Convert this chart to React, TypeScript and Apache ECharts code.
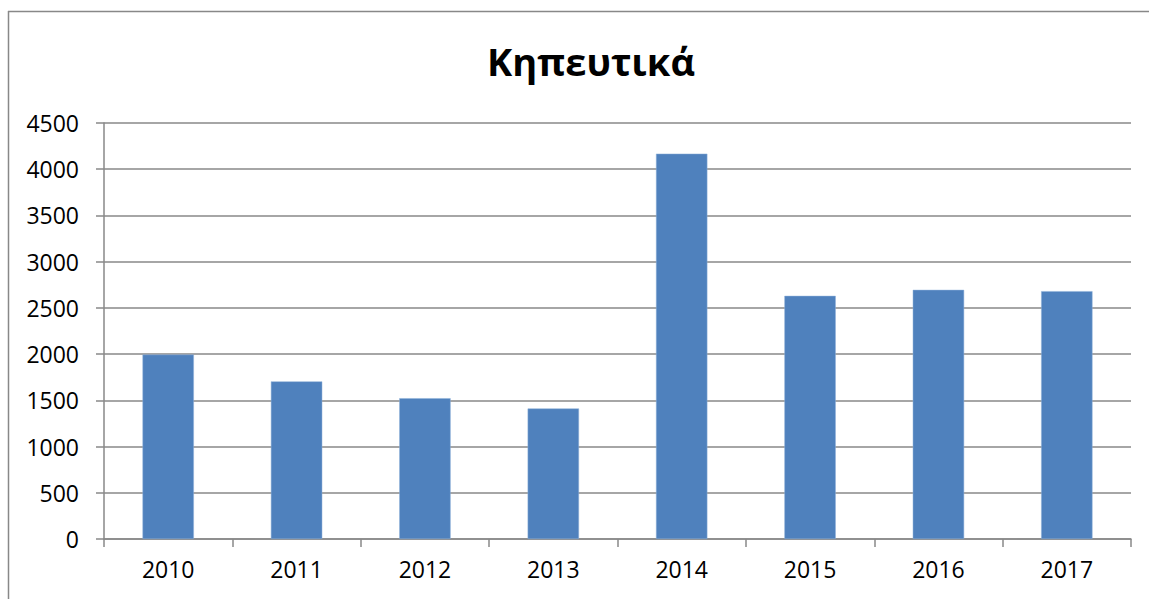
import React, { useEffect, useRef } from "react";
import * as echarts from "echarts";

const titleText = "Κηπευτικά";
const categories = ["2010", "2011", "2012", "2013", "2014", "2015", "2016", "2017"];
const values = [1995, 1705, 1523, 1412, 4168, 2630, 2695, 2681];
const yMin = 0;
const yMax = 4500;
const yInterval = 500;

const FONT = '"Open Sans", "DejaVu Sans", sans-serif';
const GREY = "#888888";

export default function App() {
  const ref = useRef<HTMLDivElement>(null);
  useEffect(() => {
    if (!ref.current) return;
    const chart = echarts.init(ref.current, null, { renderer: "svg" });
    chart.setOption({
      animation: false,
      backgroundColor: "#ffffff",
      title: {
        text: titleText,
        left: 586,
        top: 37,
        textAlign: "center",
        textStyle: { fontFamily: FONT, fontSize: 38, fontWeight: "bold", color: "#000000" },
      },
      graphic: [
        { type: "line", shape: { x1: 8.5, y1: 11, x2: 8.5, y2: 599 }, style: { stroke: GREY, lineWidth: 1.5 } },
        { type: "line", shape: { x1: 8, y1: 11.5, x2: 1149, y2: 11.5 }, style: { stroke: GREY, lineWidth: 1.5 } },
      ],
      grid: { left: 104, right: 18, top: 123, bottom: 60, containLabel: false },
      xAxis: {
        type: "category",
        data: categories,
        boundaryGap: true,
        axisLine: { show: true, lineStyle: { color: GREY, width: 1.5 } },
        axisTick: { show: true, length: 8, lineStyle: { color: GREY, width: 1.5 } },
        axisLabel: { color: "#000000", fontFamily: FONT, fontSize: 23, margin: 18 },
        splitLine: { show: false },
      },
      yAxis: {
        type: "value",
        min: yMin,
        max: yMax,
        interval: yInterval,
        axisLine: { show: true, lineStyle: { color: GREY, width: 1.5 } },
        axisTick: { show: true, length: 8, lineStyle: { color: GREY, width: 1.5 } },
        axisLabel: {
          color: "#000000",
          fontFamily: FONT,
          fontSize: 23,
          margin: 25,
          formatter: (v: number) => String(v),
        },
        splitLine: { show: true, lineStyle: { color: GREY, width: 1.5 } },
      },
      series: [
        {
          type: "bar",
          data: values,
          barWidth: "40%",
          itemStyle: { color: "#4F81BD", borderColor: "#8fb0d8", borderWidth: 0.5 },
        },
      ],
    });
    return () => chart.dispose();
  }, []);
  return (
    <div
      ref={ref}
      style={{ position: "absolute", left: 0, top: 0, width: 1149, height: 599 }}
    />
  );
}
